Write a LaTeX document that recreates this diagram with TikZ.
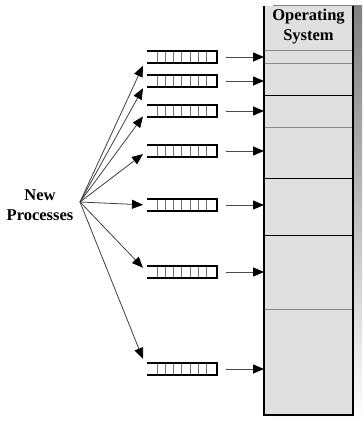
\documentclass[tikz,border=0pt]{standalone}
\usepackage{fontspec}
\setmainfont{Liberation Serif}
\usetikzlibrary{arrows.meta,calc}
\definecolor{memfill}{HTML}{E0E0E0}
\definecolor{shade}{HTML}{808080}
\definecolor{thinline}{HTML}{8A8A8A}
\begin{document}
\begin{tikzpicture}[x=1pt,y=-1pt,
  lbl/.style={font=\fontsize{16.5}{20}\selectfont\bfseries, align=center, inner sep=0pt},
  queue/.style={minimum width=70pt, minimum height=12pt, inner sep=0pt, outer sep=0pt},
  qedge/.style={line width=2pt, line join=miter},
  qcell/.style={line width=1pt, draw=black!55},
  tip/.style={-{Triangle[length=11pt,width=9pt,color=black,fill=black]}},
  feed/.style={tip, line width=0.9pt, draw=black!70},
  fan/.style={tip, line width=0.8pt, draw=black!75},
  partline/.style={line width=0.9pt},
  border/.style={line width=2.2pt, line join=miter}]
\useasboundingbox (0,0) rectangle (362,422);

% memory column with drop shadow
\fill[shade] (273,6) rectangle (362,422);
\node[minimum width=89pt, minimum height=409pt, inner sep=0pt, outer sep=0pt,
      fill=memfill] (mem) at (308.5,210.5) {};
\node[lbl] (os) at (308.5,27) {Operating\\System};

% partitions
\foreach \y/\c in {50/thinline,63/thinline,95/black,127/thinline,178/black,235/black,309/thinline}
  \draw[partline, draw=\c] (mem.west |- 0,\y) -- (mem.east |- 0,\y);
\draw[border] (mem.north west) -- (mem.south west) -- (mem.south east) -- (mem.north east);

% source of the new processes
\node[lbl] (np) at (40,205) {New\\Processes};
\coordinate (src) at (80,202);

% queues, their feeds into memory, and the fan from the source
\foreach \i/\y in {1/57,2/81,3/111,4/151,5/205,6/272,7/369} {
  \node[queue] (q\i) at (182,\y) {};
  \foreach \k in {0,...,6}
    \draw[qcell] ([xshift=10pt+8.3pt*\k]q\i.north west) -- ([xshift=10pt+8.3pt*\k]q\i.south west);
  \draw[qedge] (q\i.north west) -- (q\i.north east) -- (q\i.south east) -- (q\i.south west);
  \draw[feed] ([xshift=9pt]q\i.east) -- (mem.west |- q\i.east);
  \draw[fan] (src) -- ($(src)!0.94!(q\i.west)$);
}
\end{tikzpicture}
\end{document}
